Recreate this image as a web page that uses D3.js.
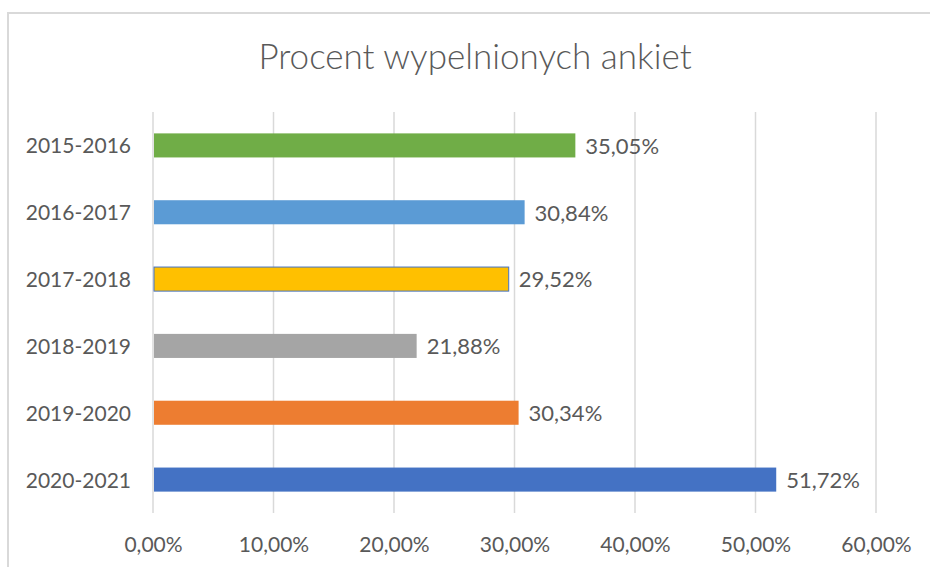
<html>
<script src="https://cdnjs.cloudflare.com/ajax/libs/d3/7.8.5/d3.min.js"></script>
<style>
  body { margin: 0; background: #fff; }
  text { font-family: Lato, "Open Sans", sans-serif; fill: #595959; }
</style>
<body>
<svg class="chart" width="930" height="567"></svg>
<script>
// survey years and share of filled surveys (%)
var years = ["2015-2016", "2016-2017", "2017-2018", "2018-2019", "2019-2020", "2020-2021"];
var percents = [35.05, 30.84, 29.52, 21.88, 30.34, 51.72];
var ticks = [0, 10, 20, 30, 40, 50, 60];
var title = "Procent wypelnionych ankiet";

var colors = ["#70ad47", "#5b9bd5", "#ffc000", "#a5a5a5", "#ed7d31", "#4472c4"];

var margin = {top: 112, right: 54, bottom: 54, left: 153},
    width = 930 - margin.left - margin.right,
    height = 567 - margin.top - margin.bottom;

var fmt = function(v) { return d3.format(".2f")(v).replace(".", ",") + "%"; };

var svg = d3.select(".chart");

// chart border
svg.append("rect")
  .attr("x", 8).attr("y", 13)
  .attr("width", 940).attr("height", 580)
  .attr("fill", "none")
  .attr("stroke", "#d9d9d9")
  .attr("stroke-width", 2);

svg.append("text")
  .attr("x", 475).attr("y", 69)
  .attr("text-anchor", "middle")
  .style("font-size", "35px")
  .style("font-weight", 300)
  .text(title);

var x = d3.scaleLinear().domain([0, 60]).range([0, width]);
var y = d3.scaleBand().domain(years).range([0, height]).padding(0);
var barH = y.bandwidth() * 0.36;

var g = svg.append("g")
  .attr("transform", "translate(" + margin.left + "," + margin.top + ")");

// gridlines
g.selectAll(".grid").data(ticks).enter()
  .append("line")
    .attr("x1", function(d) { return x(d); })
    .attr("x2", function(d) { return x(d); })
    .attr("y1", 0).attr("y2", height)
    .attr("stroke", "#d9d9d9")
    .attr("stroke-width", 1.5);

// bars
g.selectAll(".bar").data(percents).enter()
  .append("rect")
    .attr("x", x(0) + 1)
    .attr("y", function(d, i) { return y(years[i]) + (y.bandwidth() - barH) / 2; })
    .attr("width", function(d) { return x(d) - x(0) - 1; })
    .attr("height", barH)
    .attr("fill", function(d, i) { return colors[i]; })
    .attr("stroke", function(d, i) { return i == 2 ? "#4472c4" : "none"; })
    .attr("stroke-width", 1);

// value labels
g.selectAll(".val").data(percents).enter()
  .append("text")
    .attr("x", function(d) { return x(d) + 10; })
    .attr("y", function(d, i) { return y(years[i]) + y.bandwidth() / 2; })
    .attr("dy", "0.38em")
    .style("font-size", "22px")
    .text(function(d) { return fmt(d); });

// y axis labels
var yAxis = g.append("g").call(d3.axisLeft(y).tickSize(0).tickPadding(22));
yAxis.select(".domain").remove();
yAxis.selectAll("text")
  .attr("dy", "0.38em")
  .style("font-size", "21px")
  .style("fill", "#595959")
  .style("font-family", "Lato, 'Open Sans', sans-serif");

// x axis labels
var xAxis = g.append("g")
  .attr("transform", "translate(0," + height + ")")
  .call(d3.axisBottom(x).tickValues(ticks).tickSize(0).tickPadding(24)
    .tickFormat(function(d) { return fmt(d); }));
xAxis.select(".domain").remove();
xAxis.selectAll("text")
  .style("font-size", "21px")
  .style("fill", "#595959")
  .style("font-family", "Lato, 'Open Sans', sans-serif");
</script>
</body>
</html>
